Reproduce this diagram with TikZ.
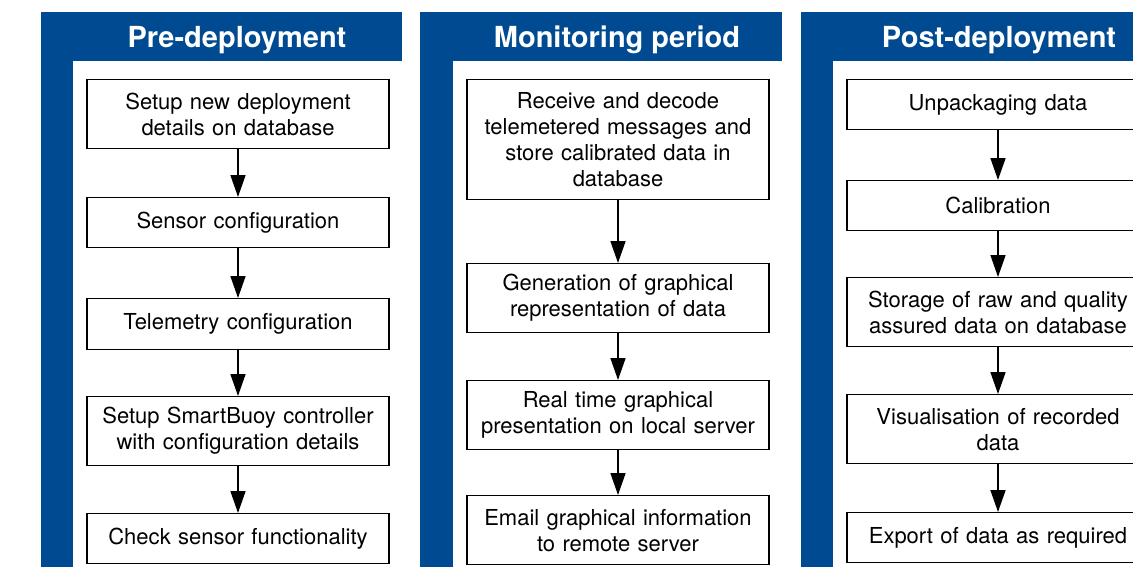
\documentclass[tikz,border=0pt]{standalone}
\usepackage{fontspec}
\setmainfont{TeX Gyre Heros}
\usetikzlibrary{arrows.meta}
\definecolor{panelblue}{RGB}{0,74,145}
\tikzset{
  stage/.style = {draw, black, line width=1.3pt, fill=white, text width=302pt,
                  align=center, inner sep=0pt, anchor=north,
                  font=\fontsize{22}{26}\selectfont},
  phase/.style = {text=white, font=\fontsize{29}{32}\selectfont\bfseries},
  flow/.style  = {-{Triangle[length=22pt,width=15pt]}, line width=1.6pt}
}
\begin{document}
\begin{tikzpicture}[x=1pt, y=-1pt]
\clip (0,0) rectangle (1133,566);
\fill [white] (0,0) rectangle (1133,566);
% blue frames
\fill [panelblue] (41,12) rectangle (402,61);
\fill [panelblue] (41,12) rectangle (73,570);
\fill [panelblue] (420,12) rectangle (782,61);
\fill [panelblue] (420,12) rectangle (453,570);
\fill [panelblue] (801,12) rectangle (1170,61);
\fill [panelblue] (801,12) rectangle (833,570);
\node (prehead) [phase] at (237,40) {Pre-deployment};
\node (monhead) [phase] at (617,40) {Monitoring period};
\node (posthead) [phase] at (999,40) {Post-deployment};
% pre-deployment
\node (pre1) [stage, minimum height=69pt] at (238,79) {Setup new deployment\\details on database};
\node (pre2) [stage, minimum height=50pt] at (238,197) {Sensor configuration};
\node (pre3) [stage, minimum height=51pt] at (238,298) {Telemetry configuration};
\node (pre4) [stage, minimum height=69pt] at (238,396) {Setup SmartBuoy controller\\with configuration details};
\node (pre5) [stage, minimum height=50pt] at (238,513) {Check sensor functionality};
\draw [flow] (pre1) -- (pre2);
\draw [flow] (pre2) -- (pre3);
\draw [flow] (pre3) -- (pre4);
\draw [flow] (pre4) -- (pre5);
% monitoring period
\node (mon1) [stage, minimum height=120pt] at (618,79) {Receive and decode\\telemetered messages and\\store calibrated data in\\database};
\node (mon2) [stage, minimum height=69pt] at (618,263) {Generation of graphical\\representation of data};
\node (mon3) [stage, minimum height=69pt] at (618,380) {Real time graphical\\presentation on local server};
\node (mon4) [stage, minimum height=69pt] at (618,495) {Email graphical information\\to remote server};
\draw [flow] (mon1) -- (mon2);
\draw [flow] (mon2) -- (mon3);
\draw [flow] (mon3) -- (mon4);
% post-deployment
\node (post1) [stage, minimum height=50pt] at (998,79) {Unpackaging data};
\node (post2) [stage, minimum height=50pt] at (998,180) {Calibration};
\node (post3) [stage, minimum height=69pt] at (998,277) {Storage of raw and quality\\assured data on database};
\node (post4) [stage, minimum height=69pt] at (998,394) {Visualisation of recorded\\data};
\node (post5) [stage, minimum height=50pt] at (998,512) {Export of data as required};
\draw [flow] (post1) -- (post2);
\draw [flow] (post2) -- (post3);
\draw [flow] (post3) -- (post4);
\draw [flow] (post4) -- (post5);
\end{tikzpicture}
\end{document}
